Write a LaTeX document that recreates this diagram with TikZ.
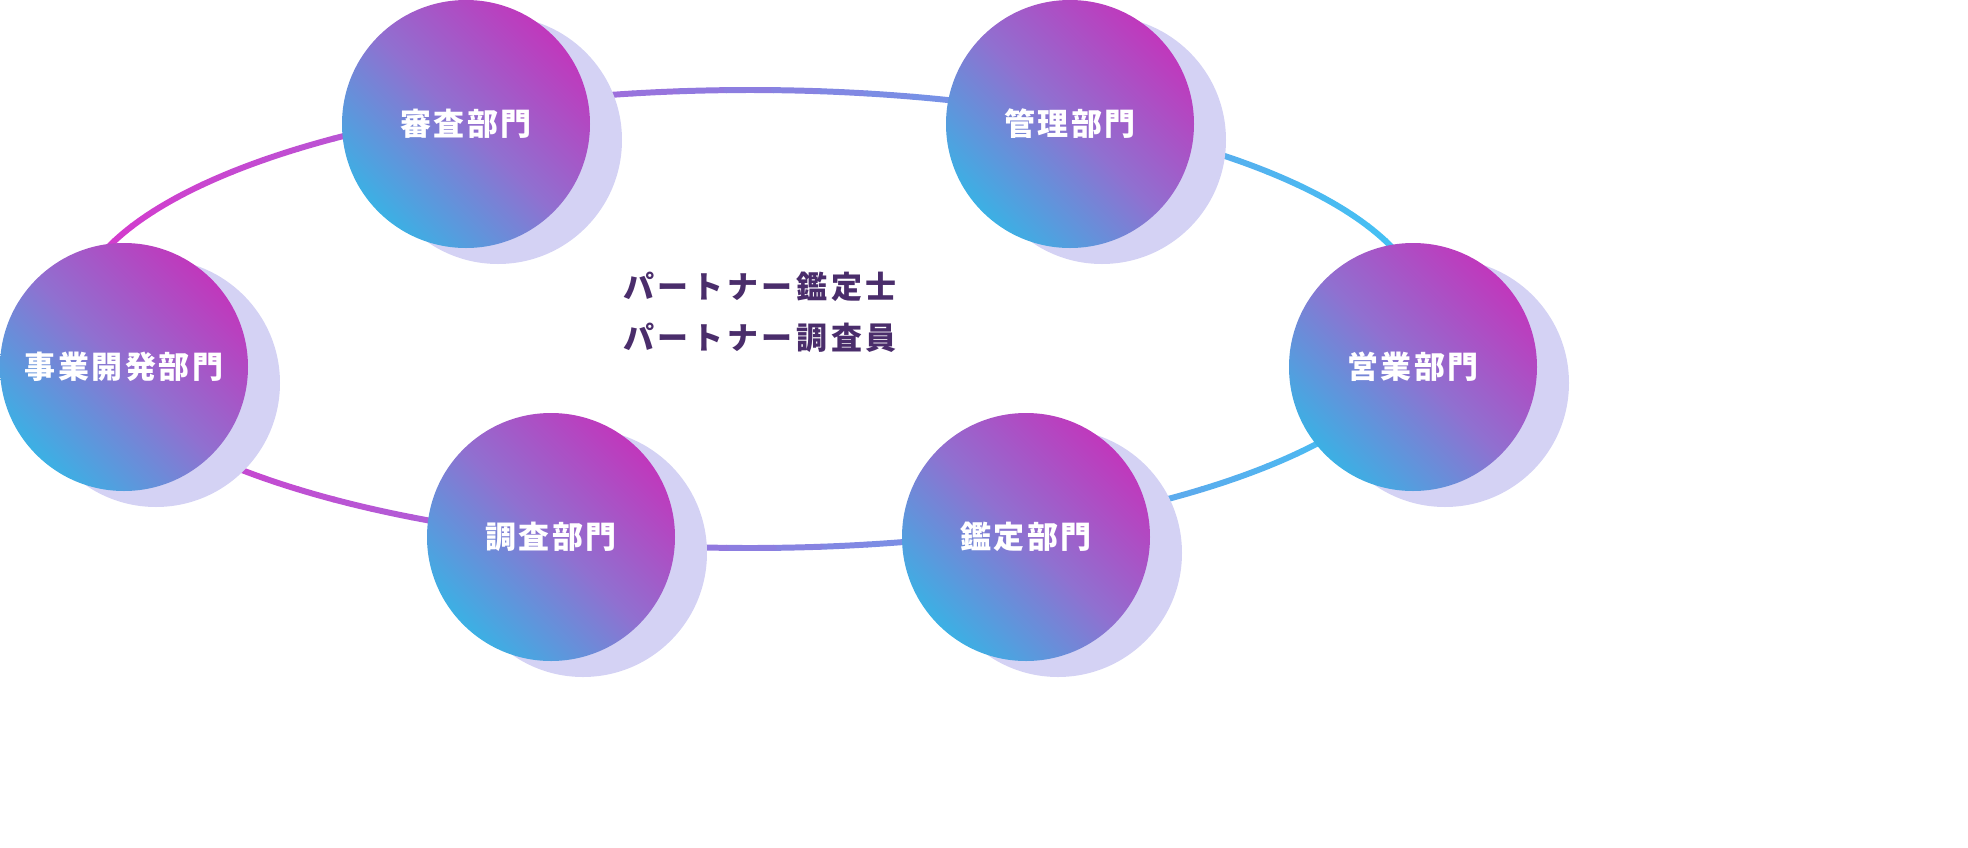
\documentclass[tikz,border=0pt]{standalone}
\usepackage{fontspec}
\newfontfamily\jp{Noto Sans CJK JP}
\definecolor{mg}{HTML}{D838CC}
\definecolor{cy}{HTML}{40C4F4}
\definecolor{cmag}{HTML}{C038BC}
\definecolor{cmid}{HTML}{9070D0}
\definecolor{ccy}{HTML}{3CB0E4}
\definecolor{shad}{HTML}{D4D2F4}
\definecolor{ctext}{HTML}{4A2D6B}
\tikzset{
 dept/.style={text=white,font=\jp\bfseries\fontsize{8.8pt}{10pt}\selectfont},
 center/.style={text=ctext,font=\jp\bfseries\fontsize{8.8pt}{10pt}\selectfont}
}
\begin{document}
\begin{tikzpicture}[x=0.01cm,y=-0.01cm]
\useasboundingbox (0,0) rectangle (1968,848);
\foreach \a in {0,4,...,356}{
  \pgfmathsetmacro{\f}{50+50*cos(\a+2)}
  \draw[line width=1.7pt,line cap=round,color=cy!\f!mg] ({750+676*cos(\a)},{319+229*sin(\a)}) arc[start angle=\a,end angle=\a+4,x radius=676,y radius=229];
}
\foreach \n/\x/\y/\t in {a/466/124/審査部門,b/1070/124/管理部門,c/124/367/事業開発部門,d/1413/367/営業部門,e/551/537/調査部門,f/1026/537/鑑定部門}{
  \fill[shad] (\x+32,\y+16) circle (124);
  \shade[left color=cmag,right color=ccy,middle color=cmid,shading angle=-45] (\x,\y) circle (124);
  \node[dept] (\n) at (\x,\y) {\addfontfeatures{LetterSpace=8}\t};
}
\node[center] (t1) at (760,287) {\addfontfeatures{LetterSpace=12}パートナー鑑定士};
\node[center] (t2) at (760,338) {\addfontfeatures{LetterSpace=12}パートナー調査員};
\end{tikzpicture}
\end{document}
